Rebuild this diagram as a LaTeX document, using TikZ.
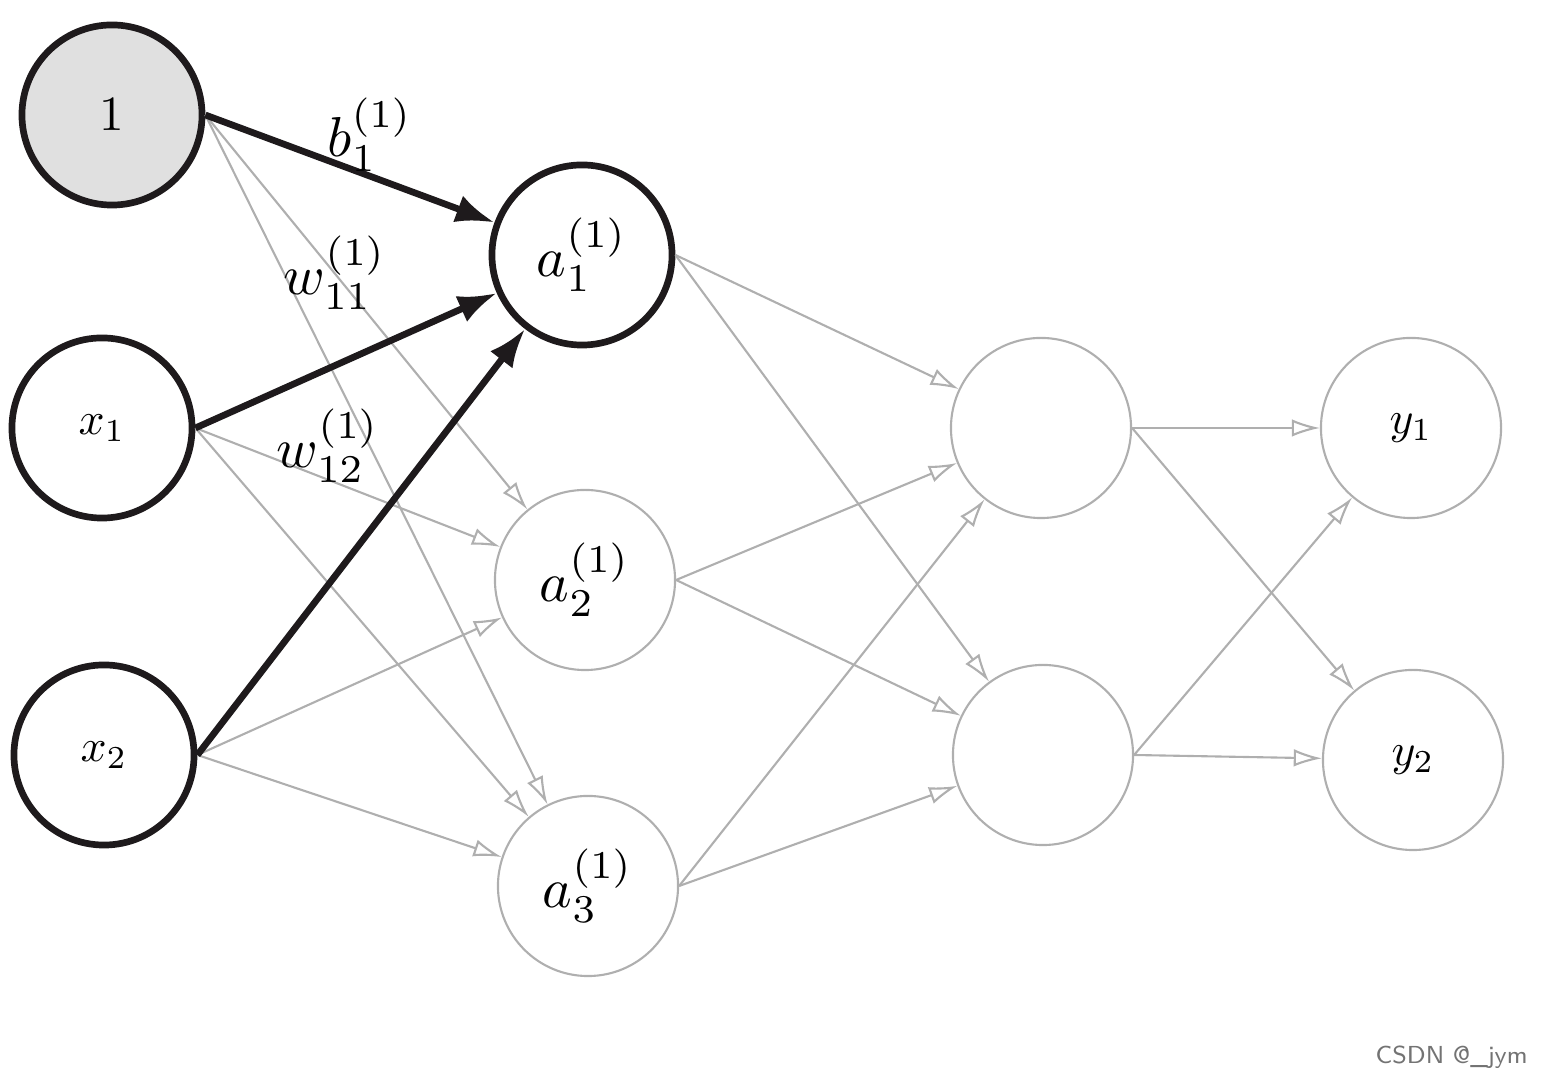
\documentclass[tikz,border=0pt]{standalone}
\usetikzlibrary{arrows.meta}
\definecolor{lg}{RGB}{175,175,175}
\definecolor{dk}{RGB}{30,26,28}
\begin{document}
\begin{tikzpicture}[x=0.01cm,y=-0.01cm,
  bold/.style={circle,draw=dk,line width=1.9pt,minimum size=1.8cm,inner sep=0pt},
  thin/.style={circle,draw=lg,line width=0.6pt,minimum size=1.8cm,inner sep=0pt},
  ga/.style={draw=lg,line width=0.6pt,-{Latex[open,length=8pt,width=5pt]}},
  ba/.style={draw=dk,line width=1.9pt,-{Latex[length=11pt,width=8pt]}},
  lab/.style={scale=1.6}]
\useasboundingbox (0,0) rectangle (1554,1077);
\node[bold,fill=black!12] (one) at (112,115) {\scalebox{1.4}{$1$}};
\node[bold] (x1) at (102,428) {\scalebox{1.3}{$x_1$}};
\node[bold] (x2) at (104,755) {\scalebox{1.3}{$x_2$}};
\node[bold] (a1) at (582,255) {\scalebox{1.6}{$a_1^{(1)}$}};
\node[thin] (a2) at (585,580) {\scalebox{1.6}{$a_2^{(1)}$}};
\node[thin] (a3) at (588,886) {\scalebox{1.6}{$a_3^{(1)}$}};
\node[thin] (h1) at (1041,428) {};
\node[thin] (h2) at (1043,755) {};
\node[thin] (y1) at (1411,428) {\scalebox{1.3}{$y_1$}};
\node[thin] (y2) at (1413,760) {\scalebox{1.3}{$y_2$}};
\coordinate (s0) at (one.east);
\coordinate (s1) at (x1.east);
\coordinate (s2) at (x2.east);
\foreach \s in {s0,s1,s2}{
  \draw[ga] (\s) -- (a2);
  \draw[ga] (\s) -- (a3);
  \draw[ba] (\s) -- (a1);}
\foreach \a in {a1,a2,a3}{
  \draw[ga] (\a.east) -- (h1);
  \draw[ga] (\a.east) -- (h2);}
\foreach \h in {h1,h2}{
  \draw[ga] (\h.east) -- (y1);
  \draw[ga] (\h.east) -- (y2);}
\node[lab] (lb) at (370,135) {$b_1^{(1)}$};
\node[lab] (lw1) at (335,273) {$w_{11}^{(1)}$};
\node[lab] (lw2) at (328,446) {$w_{12}^{(1)}$};
\node[text=black!55,font=\sffamily\scriptsize,anchor=east] (wm) at (1540,1057) {CSDN @\_jym};
\end{tikzpicture}
\end{document}
